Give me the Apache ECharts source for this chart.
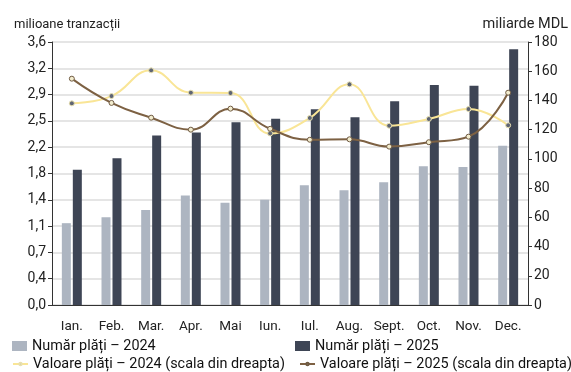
<!DOCTYPE html>
<html><head><meta charset="utf-8">
<script src="https://cdn.jsdelivr.net/npm/echarts@6/dist/echarts.min.js"></script>
<style>html,body{margin:0;padding:0;background:#fff}#c{width:571px;height:372px}</style>
</head><body><div id="c"></div>
<script>
const months = ['Ian.','Feb.','Mar.','Apr.','Mai','Iun.','Iul.','Aug.','Sept.','Oct.','Nov.','Dec.'];
const plati2024 = [1.12,1.20,1.30,1.50,1.40,1.44,1.64,1.57,1.68,1.90,1.89,2.18];
const plati2025 = [1.85,2.01,2.32,2.36,2.50,2.55,2.68,2.57,2.79,3.01,3.00,3.50];
const valoare2024 = [138.0,143.0,160.6,145.3,145.1,117.4,128.0,151.0,122.7,127.3,134.1,123.0];
const valoare2025 = [154.9,138.3,128.2,120.0,134.4,120.6,113.1,113.4,108.4,111.4,115.2,145.3];
const names = ['Număr plăți – 2024','Număr plăți – 2025','Valoare plăți – 2024 (scala din dreapta)','Valoare plăți – 2025 (scala din dreapta)'];

const FONT = 'Roboto';
const txt = {color:'#222', fontFamily:FONT, fontSize:13};
const chart = echarts.init(document.getElementById('c'), null, {renderer:'canvas'});
function leg(name, left, top, icon, w, h){
  return {data:[name], left:left, top:top, icon:icon, itemWidth:w, itemHeight:h, itemGap:0,
    padding:0, textStyle:{color:'#111', fontFamily:FONT, fontSize:14.4}};
}
chart.setOption({
  animation:false,
  textStyle:{fontFamily:FONT},
  grid:{left:52, right:37, top:42, bottom:67},
  legend:[
    leg(names[0], 12, 339, 'rect', 15, 10),
    leg(names[1], 295, 339, 'rect', 15, 10),
    leg(names[2], 12, 357, undefined, 15, 3),
    leg(names[3], 299, 357, undefined, 15, 3)
  ],
  xAxis:{type:'category', data:months,
    axisLine:{lineStyle:{color:'#333', width:1}},
    axisTick:{alignWithLabel:true, interval:0, length:4, lineStyle:{color:'#333'}},
    axisLabel:{...txt, fontSize:13.5, margin:15, interval:0}},
  yAxis:[
    {type:'value', min:0, max:3.6, interval:0.36, name:'milioane tranzacții',
     nameLocation:'end', nameGap:11, nameTextStyle:{...txt, fontSize:13, align:'left', padding:[0,0,0,-38]},
     axisLine:{show:true, lineStyle:{color:'#333'}},
     axisTick:{show:true, length:4, lineStyle:{color:'#333'}},
     axisLabel:{...txt, fontSize:14, margin:6, formatter:v=>v.toFixed(1).replace('.',',')},
     splitLine:{lineStyle:{color:'#dcdcdc', width:1.5}}},
    {type:'value', min:0, max:180, interval:20, name:'miliarde MDL',
     nameLocation:'end', nameGap:10, nameTextStyle:{...txt, fontSize:14.5, align:'right', padding:[0,-40,0,0]},
     axisLine:{show:true, lineStyle:{color:'#333'}},
     axisTick:{show:true, length:4, lineStyle:{color:'#333'}},
     axisLabel:{...txt, fontSize:14, margin:6},
     splitLine:{show:false}}
  ],
  series:[
    {name:names[0], type:'bar', data:plati2024, barWidth:9, barGap:'22%',
     itemStyle:{color:'#adb5c1'}},
    {name:names[1], type:'bar', data:plati2025, barWidth:9,
     itemStyle:{color:'#3e4555'}},
    {name:names[2], type:'line', yAxisIndex:1, data:valoare2024, smooth:0.45,
     symbol:'circle', symbolSize:5, showAllSymbol:true,
     lineStyle:{color:'#f9e596', width:2},
     itemStyle:{color:'#5f6574', borderColor:'#e8e0b0', borderWidth:1}},
    {name:names[3], type:'line', yAxisIndex:1, data:valoare2025, smooth:0.45,
     symbol:'circle', symbolSize:5, showAllSymbol:true,
     lineStyle:{color:'#7d6143', width:2},
     itemStyle:{color:'#f3edcf', borderColor:'#6f5a42', borderWidth:1}}
  ]
});
</script></body></html>
